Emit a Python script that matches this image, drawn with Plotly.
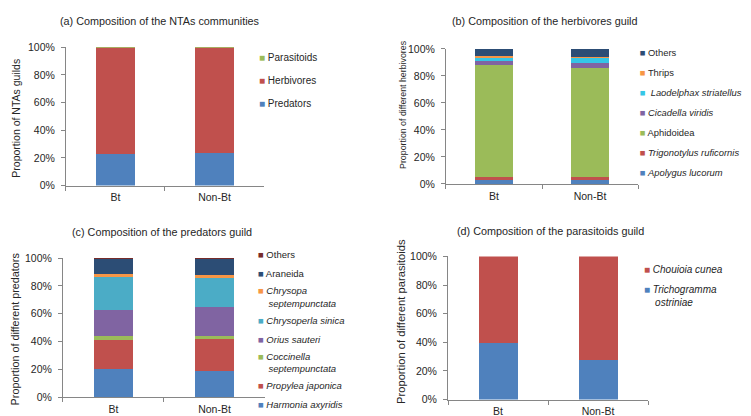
import plotly.graph_objects as go

sites = ["Bt", "Non-Bt"]

# (a) guilds
guild_names = ["Predators", "Herbivores", "Parasitoids"]
guild_bt = [23.0, 76.9, 0.1]
guild_nonbt = [23.4, 76.5, 0.1]
guild_colors = ["#4F81BD", "#C0504D", "#9BBB59"]

# (b) herbivores
herb_names = ["<i>Apolygus lucorum</i>", "<i>Trigonotylus ruficornis</i>", "Aphidoidea",
              "<i>Cicadella viridis</i>", " <i>Laodelphax striatellus</i>", "Thrips", "Others"]
herb_bt = [3.6, 1.4, 83.0, 3.2, 2.8, 0.7, 5.3]
herb_nonbt = [3.6, 1.4, 80.6, 3.8, 4.1, 0.5, 6.0]
herb_colors = ["#4F81BD", "#C0504D", "#9BBB59", "#8064A2", "#35C6E6", "#F79646", "#2C4D75"]

# (c) predators
pred_names = ["<i>Harmonia axyridis</i>", "<i>Propylea japonica</i>", "<i>Coccinella<br>septempunctata</i>",
              "<i>Orius sauteri</i>", "<i>Chrysoperla sinica</i>", "<i>Chrysopa<br>septempunctata</i>",
              "Araneida", "Others"]
pred_bt = [20.0, 21.4, 2.4, 19.0, 23.3, 2.3, 11.5, 0.1]
pred_nonbt = [18.6, 23.1, 2.5, 20.3, 21.1, 2.1, 12.2, 0.1]
pred_colors = ["#4F81BD", "#C0504D", "#9BBB59", "#8064A2", "#4BACC6", "#F79646", "#2C4D75", "#772C2A"]

# (d) parasitoids
para_names = ["<i>Trichogramma<br>ostriniae</i>", "<i>Chouioia cunea</i>"]
para_bt = [39.5, 60.5]
para_nonbt = [27.3, 72.7]
para_colors = ["#4F81BD", "#C0504D"]

FONT = "Liberation Sans, Arial, sans-serif"
AX = "#868686"
INDENT = "\u00a0" * 4

panels = [
    dict(names=guild_names, bt=guild_bt, nb=guild_nonbt, colors=guild_colors,
         xd=[0.0772, 0.3409], yd=[0.5752, 0.9175], legend="legend",
         title="(a) Composition of the NTAs communities", ytitle="Proportion of NTAs guilds",
         tx=0.2027, ty=0.982, yx=0.0105, yy=0.743, yfs=10.5,
         lx=0.281, ly=0.93, gap=4, lfs=10),
    dict(names=herb_names, bt=herb_bt, nb=herb_nonbt, colors=herb_colors,
         xd=[0.5832, 0.8389], yd=[0.5793, 0.9135], legend="legend2",
         title="(b) Composition of the herbivores guild", ytitle="Proportion of different herbivores",
         tx=0.7144, ty=0.982, yx=0.526, yy=0.775, yfs=8.8,
         lx=0.788, ly=0.94, gap=1, lfs=9.4),
    dict(names=pred_names, bt=pred_bt, nb=pred_nonbt, colors=pred_colors,
         xd=[0.0732, 0.3422], yd=[0.0512, 0.3959], legend="legend3",
         title="(c) Composition of the predators guild", ytitle="Proportion of different predators",
         tx=0.205, ty=0.4615, yx=0.0097, yy=0.22, yfs=10.8,
         lx=0.2796, ly=0.441, gap=0, lfs=9.5),
    dict(names=para_names, bt=para_bt, nb=para_nonbt, colors=para_colors,
         xd=[0.5859, 0.8522], yd=[0.0457, 0.3998], legend="legend4",
         title="(d) Composition of the parasitoids guild", ytitle="Proportion of different parasitoids",
         tx=0.723, ty=0.464, yx=0.5235, yy=0.238, yfs=11.2,
         lx=0.7936, ly=0.404, gap=2, lfs=10),
]


def legend_label(name, color):
    # coloured square in front of the text, continuation lines indented
    return f'<span style="color:{color}">■</span> ' + name.replace("<br>", "<br>" + INDENT)


fig = go.Figure()
layout = dict(
    width=751, height=416, margin=dict(l=0, r=0, t=0, b=0),
    paper_bgcolor="white", plot_bgcolor="white",
    barmode="stack", bargap=0.61,
    font=dict(family=FONT, size=10, color="#262626"),
    annotations=[],
)

for i, p in enumerate(panels, start=1):
    sfx = "" if i == 1 else str(i)
    n_items = len(p["names"])
    for k, (name, b, n, c) in enumerate(zip(p["names"], p["bt"], p["nb"], p["colors"])):
        fig.add_trace(go.Bar(
            x=sites, y=[b, n], name=name, marker=dict(color=c, line=dict(width=0)),
            xaxis="x" + sfx, yaxis="y" + sfx, showlegend=False,
        ))
        # legend entry with a small square like the original
        fig.add_trace(go.Scatter(
            x=[None], y=[None], mode="markers", name=legend_label(name, c),
            marker=dict(color="rgba(0,0,0,0)", size=1),
            xaxis="x" + sfx, yaxis="y" + sfx, legend=p["legend"],
            legendgroup=f"g{i}_{k}", legendrank=100 + n_items - k, hoverinfo="skip",
        ))
    layout["xaxis" + sfx] = dict(
        domain=p["xd"], anchor="y" + sfx, showline=True, linecolor=AX, linewidth=1,
        ticks="outside", tickson="boundaries", ticklen=4, tickcolor=AX,
        tickfont=dict(size=10.5), showgrid=False, ticklabelstandoff=2,
    )
    layout["yaxis" + sfx] = dict(
        domain=p["yd"], anchor="x" + sfx, range=[0, 100], dtick=20, ticksuffix="%",
        showline=True, linecolor=AX, linewidth=1, ticks="outside", ticklen=4, tickcolor=AX,
        tickfont=dict(size=10.5), showgrid=False, zeroline=False, ticklabelstandoff=4,
    )
    layout[p["legend"]] = dict(
        x=p["lx"], y=p["ly"], xanchor="left", yanchor="top", traceorder="grouped",
        tracegroupgap=p["gap"], bgcolor="rgba(0,0,0,0)", font=dict(size=p["lfs"]),
        itemwidth=30, itemclick=False, itemdoubleclick=False,
    )
    layout["annotations"].append(dict(
        text=p["title"], x=p["tx"], y=p["ty"], xref="paper", yref="paper",
        showarrow=False, font=dict(size=10.8), xanchor="center", yanchor="middle",
    ))
    layout["annotations"].append(dict(
        text=p["ytitle"], x=p["yx"], y=p["yy"], xref="paper", yref="paper",
        showarrow=False, textangle=-90, font=dict(size=p["yfs"]), xanchor="center", yanchor="middle",
    ))

fig.update_layout(**layout)
fig.write_html("out.html")
